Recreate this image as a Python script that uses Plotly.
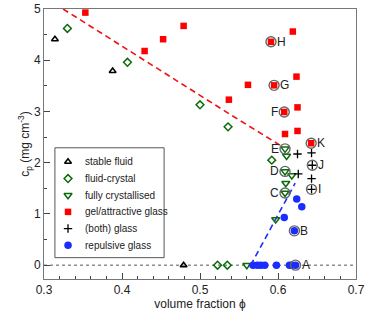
import plotly.graph_objects as go

# ---- data ----
stable_x = [0.314, 0.388, 0.479]
stable_y = [4.41, 3.79, 0.0]

fcryst_x = [0.330, 0.407, 0.500, 0.536, 0.592, 0.5225, 0.535]
fcryst_y = [4.62, 3.96, 3.13, 2.70, 2.05, 0.0, 0.0]

full_x = [0.560, 0.597, 0.609, 0.611, 0.609, 0.6177, 0.610, 0.609]
full_y = [0.0, 0.89, 2.27, 2.13, 1.83, 1.75, 1.60, 1.41]

gel_x = [0.353, 0.429, 0.4527, 0.479, 0.537, 0.5615, 0.619, 0.6237, 0.625, 0.625, 0.609,
         0.591, 0.595, 0.608, 0.6425]
gel_y = [4.93, 4.18, 4.41, 4.67, 3.23, 3.52, 4.56, 3.68, 3.08, 2.62, 2.56,
         4.36, 3.51, 2.99, 2.38]

both_x = [0.625, 0.643, 0.626, 0.643, 0.644, 0.643]
both_y = [2.17, 2.19, 1.78, 1.69, 1.95, 1.48]

rep_x = [0.624, 0.6305, 0.608, 0.621, 0.568, 0.5735, 0.578, 0.583, 0.598, 0.6147, 0.6175, 0.6225]
rep_y = [1.29, 1.14, 0.93, 0.67, 0.0, 0.0, 0.0, 0.0, 0.0, 0.0, 0.0, 0.0]

label_names = ["H", "G", "F", "K", "E", "D", "C", "J", "I", "B", "A"]
label_x = [0.591, 0.595, 0.608, 0.6425, 0.609, 0.609, 0.609, 0.644, 0.643, 0.621, 0.6225]
label_y = [4.36, 3.51, 2.99, 2.38, 2.27, 1.83, 1.41, 1.95, 1.48, 0.67, 0.0]
label_side = ["right", "right", "left", "right", "left", "left", "left", "right", "right", "right", "right"]

gel_fit_x = [0.3245, 0.40, 0.481, 0.54, 0.606]
gel_fit_y = [5.0, 4.27, 3.50, 2.93, 2.31]

rep_fit_x = [0.565, 0.622]
rep_fit_y = [0.0, 1.6]

series_names = ["stable fluid", "fluid-crystal", "fully crystallised",
                "gel/attractive glass", "(both) glass", "repulsive glass"]

x_ticks = [0.3, 0.4, 0.5, 0.6, 0.7]
y_ticks = [0, 1, 2, 3, 4, 5]

# ---- styles ----
GREEN = "#0b6b0b"
RED = "#ff0000"
BLUE = "#1a2cff"
FONT = "Liberation Sans, Arial, sans-serif"
TXT = "#222222"

styles = [
    dict(symbol="triangle-up-open", size=6, color="black", line=dict(width=1.5, color="black")),
    dict(symbol="diamond-open", size=6, color=GREEN, line=dict(width=1.5, color=GREEN)),
    dict(symbol="triangle-down-open", size=7, color=GREEN, line=dict(width=1.5, color=GREEN)),
    dict(symbol="square", size=6.5, color=RED, line=dict(width=0)),
    dict(symbol="cross-thin-open", size=6, color="black", line=dict(width=1.3, color="black")),
    dict(symbol="circle", size=7.5, color=BLUE, line=dict(width=0)),
]
series_x = [stable_x, fcryst_x, full_x, gel_x, both_x, rep_x]
series_y = [stable_y, fcryst_y, full_y, gel_y, both_y, rep_y]

fig = go.Figure()

# fit lines
fig.add_trace(go.Scatter(x=gel_fit_x, y=gel_fit_y, mode="lines", showlegend=False,
                         line=dict(color="#ee1111", width=1.6, dash="6px,4px"), hoverinfo="skip"))
fig.add_trace(go.Scatter(x=rep_fit_x, y=rep_fit_y, mode="lines", showlegend=False,
                         line=dict(color=BLUE, width=1.6, dash="6px,4px"), hoverinfo="skip"))

for name, xs, ys, st in zip(series_names, series_x, series_y, styles):
    fig.add_trace(go.Scatter(x=xs, y=ys, mode="markers", name=name, marker=st, showlegend=False))

# labelled points: ring + letter
fig.add_trace(go.Scatter(x=label_x, y=label_y, mode="markers", showlegend=False,
                         marker=dict(symbol="circle-open", size=10, color="#666666",
                                     line=dict(width=1.4, color="#666666")), hoverinfo="skip"))
for name, lx, ly, side in zip(label_names, label_x, label_y, label_side):
    fig.add_annotation(x=lx, y=ly, text=name, showarrow=False,
                       xanchor="left" if side == "right" else "right", yanchor="middle",
                       xshift=4 if side == "right" else -4,
                       font=dict(family=FONT, size=12, color=TXT))

# dotted zero line
fig.add_shape(type="line", xref="paper", x0=0, x1=1, yref="y", y0=0, y1=0,
              line=dict(color="#555555", width=1, dash="dot"), layer="below")

# ---- compact legend box drawn on an overlay (paper-like) axis pair ----
LEG_X0, LEG_X1, LEG_Y0, LEG_Y1 = 0.035, 0.385, 0.079, 0.486
LEG_MARK_X, LEG_TEXT_X = 0.077, 0.125
LEG_TOP, LEG_STEP = 0.434, 0.0618
fig.add_trace(go.Scatter(x=[LEG_X0, LEG_X1, LEG_X1, LEG_X0, LEG_X0],
                         y=[LEG_Y0, LEG_Y0, LEG_Y1, LEG_Y1, LEG_Y0],
                         mode="lines", fill="toself", fillcolor="white",
                         line=dict(color="#555555", width=1), xaxis="x2", yaxis="y2",
                         showlegend=False, hoverinfo="skip"))
for i, (name, st) in enumerate(zip(series_names, styles)):
    yy = LEG_TOP - i * LEG_STEP
    fig.add_trace(go.Scatter(x=[LEG_MARK_X], y=[yy], mode="markers", marker=st,
                             xaxis="x2", yaxis="y2", showlegend=False, hoverinfo="skip"))
    fig.add_annotation(x=LEG_TEXT_X, y=yy, xref="x2", yref="y2", text=name, showarrow=False,
                       xanchor="left", yanchor="middle",
                       font=dict(family=FONT, size=10, color=TXT))

axis_common = dict(showgrid=False, zeroline=False, showline=True, linecolor="#777777", linewidth=1,
                   mirror=True, ticks="inside", tickcolor="#444444", ticklen=6, tickwidth=1,
                   automargin=False,
                   tickfont=dict(family=FONT, size=12, color=TXT))

fig.update_xaxes(range=[0.3, 0.7], tickvals=x_ticks, ticktext=[str(v) for v in x_ticks],
                 minor=dict(ticks="inside", ticklen=3, tickcolor="#444444", dtick=0.02, showgrid=False),
                 title=dict(text="volume fraction ϕ", font=dict(family=FONT, size=12, color=TXT),
                            standoff=0),
                 **axis_common)
fig.update_yaxes(range=[-0.27, 5.0], tickvals=y_ticks, ticktext=[str(v) for v in y_ticks],
                 minor=dict(ticks="inside", ticklen=3, tickcolor="#444444", dtick=0.5, tick0=0, showgrid=False),
                 title=dict(text="c<sub>p</sub> (mg cm<sup>-3</sup>)",
                            font=dict(family=FONT, size=12, color=TXT), standoff=0),
                 **axis_common)

fig.update_layout(
    width=370, height=316,
    margin=dict(l=44, r=14, t=9, b=37, autoexpand=False),
    paper_bgcolor="white", plot_bgcolor="white",
    font=dict(family=FONT, size=10, color=TXT),
    xaxis2=dict(overlaying="x", range=[0, 1], visible=False, anchor="y2", fixedrange=True),
    yaxis2=dict(overlaying="y", range=[0, 1], visible=False, anchor="x2", fixedrange=True),
    showlegend=False,
)

fig.write_html("out.html", config={"displayModeBar": False},
               post_script="document.body.style.margin='0';")
